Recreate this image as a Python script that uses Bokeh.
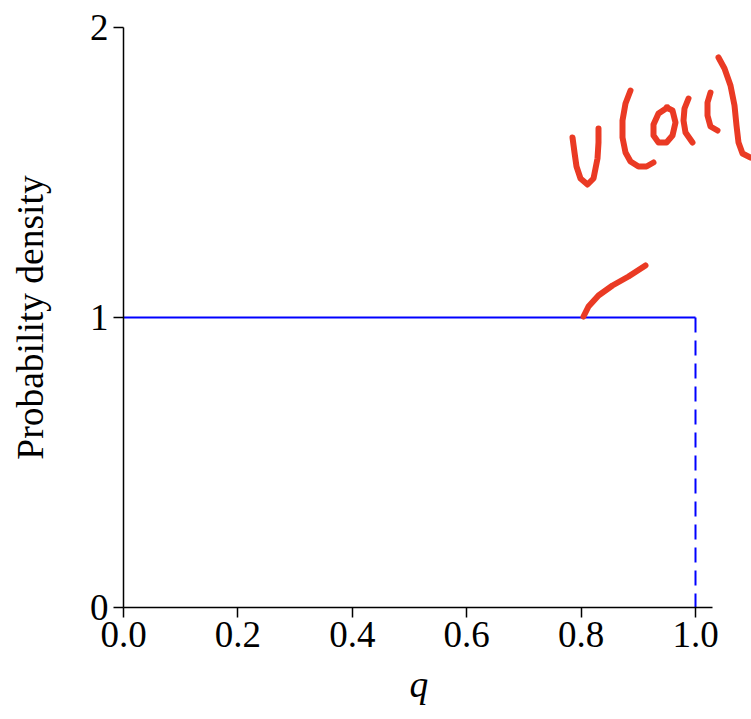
from bokeh.plotting import figure
from bokeh.embed import file_html
from bokeh.resources import INLINE
from bokeh.models import Range1d, FixedTicker, Title

# Data: uniform U(0,1) density
q_vals = [0.0, 1.0]
density_vals = [1.0, 1.0]
drop_q = [1.0, 1.0]
drop_density = [1.0, 0.0]

x_ticks = [0.0, 0.2, 0.4, 0.6, 0.8, 1.0]
y_ticks = [0, 1, 2]
x_label = "q"
y_label = "Probability density"

# Handwritten red annotation strokes, pixel positions in the picture
# converted to data units below
px_x0, px_per_x = 123.0, 572.0
px_y0, px_per_y = 607.0, 290.0
strokes_px = [
    [(583, 316), (588, 306), (598, 295), (612, 285), (628, 276), (645, 265)],
    [(572, 137), (574, 152), (576, 166), (580, 178), (587, 184), (593, 178), (597, 158), (598, 142), (598, 128)],
    [(630, 90), (625, 103), (622, 120), (622, 137), (625, 152), (630, 161), (638, 166), (646, 166), (653, 162)],
    [(667, 107), (658, 113), (653, 124), (653, 135), (658, 142), (666, 142), (672, 135), (675, 122), (672, 110), (666, 107)],
    [(688, 98), (684, 108), (683, 120), (685, 132), (692, 142)],
    [(710, 92), (707, 102), (707, 115), (710, 126), (717, 130)],
    [(718, 57), (724, 68), (730, 85), (734, 105), (736, 125), (738, 142), (742, 153), (750, 157)],
]

p = figure(width=751, height=719, output_backend="svg", toolbar_location=None,
           x_range=Range1d(0, (751 - px_x0) / px_per_x),
           y_range=Range1d(0, 2.0),
           min_border_left=123, min_border_right=0,
           min_border_top=27, min_border_bottom=112)
p.outline_line_color = None
p.xgrid.visible = False
p.ygrid.visible = False
p.background_fill_color = "white"
p.border_fill_color = "white"

p.line(q_vals, density_vals, line_color="#0000ff", line_width=2)
p.line(drop_q, drop_density, line_color="#0000ff", line_width=2, line_dash="15 8")

for s in strokes_px:
    xs = [(a - px_x0) / px_per_x for a, b in s]
    ys = [(px_y0 - b) / px_per_y for a, b in s]
    p.line(xs, ys, line_color="#ea3a24", line_width=6, line_cap="round", line_join="round")

font = "Liberation Serif"
for ax in (p.xaxis[0], p.yaxis[0]):
    ax.axis_line_color = "black"
    ax.axis_line_width = 1.5
    ax.major_tick_line_color = "black"
    ax.major_tick_line_width = 1.5
    ax.major_tick_out = 10
    ax.major_tick_in = 0
    ax.minor_tick_line_color = None
    ax.major_label_text_font = font
    ax.major_label_text_font_size = "37px"
    ax.major_label_text_color = "black"
    ax.axis_label_text_font = font
    ax.axis_label_text_font_size = "37.5px"
    ax.axis_label_text_color = "black"

p.xaxis[0].ticker = FixedTicker(ticks=x_ticks)
p.xaxis[0].bounds = (0, (712 - px_x0) / px_per_x)
p.xaxis[0].major_label_overrides = {v: f"{v:.1f}" for v in x_ticks}
p.xaxis[0].major_label_standoff = 4

# x-axis title centred on the axis line rather than on the wider frame
p.add_layout(Title(text=x_label, align="left", offset=286, standoff=24,
                   text_font=font, text_font_style="italic", text_font_size="37.5px",
                   text_color="black", text_line_height=1.0), "below")

p.yaxis[0].ticker = FixedTicker(ticks=y_ticks)
p.yaxis[0].bounds = (0, 2)
p.yaxis[0].axis_label = y_label
p.yaxis[0].axis_label_text_font_style = "normal"
p.yaxis[0].axis_label_standoff = 36
p.yaxis[0].major_label_standoff = 5

open("out.html", "w").write(file_html(p, INLINE))
